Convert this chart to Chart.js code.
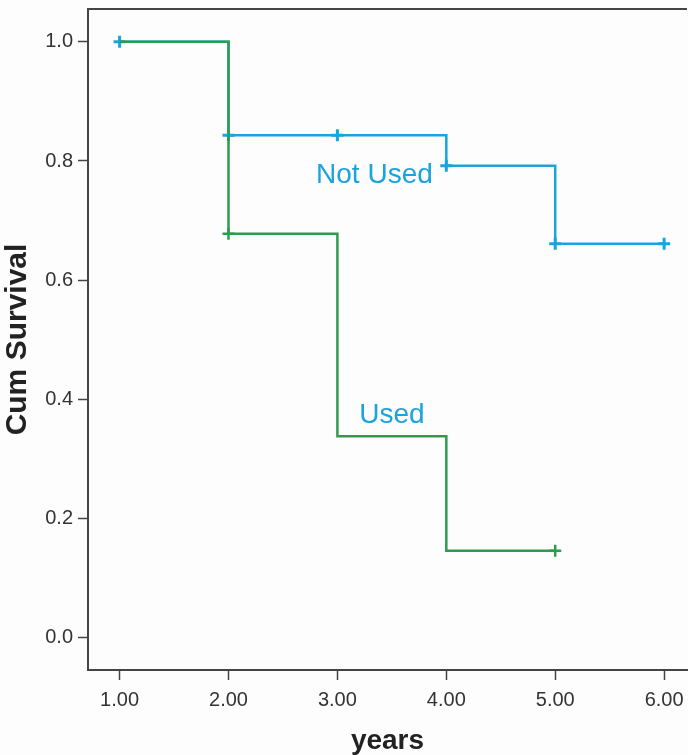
<!DOCTYPE html>
<html>
<head>
<meta charset="utf-8">
<script src="https://cdn.jsdelivr.net/npm/chart.js@4"></script>
<style>
  html, body { margin: 0; padding: 0; background: #fdfdfd; overflow: hidden; width: 688px; height: 755px; }
  /* le cadre de droite est coupé dans l'original : on déborde un peu */
  #wrap { width: 696px; height: 755px; position: relative; }
</style>
</head>
<body>
<div id="wrap"><canvas id="survivalChart"></canvas></div>
<script>
const years = [1, 2, 4, 5, 6];
const notUsed = [1.0, 0.843, 0.792, 0.661, 0.661];
const usedYears = [1, 2, 3, 4, 5];
const used = [1.0, 0.678, 0.338, 0.146, 0.146];

// Points censurés (+)
const notUsedCensorX = [1, 2, 3, 4, 5, 6];
const notUsedCensorY = [1.0, 0.843, 0.843, 0.792, 0.661, 0.661];
const usedCensorX = [2, 5];
const usedCensorY = [0.678, 0.146];

const xTicks = [1, 2, 3, 4, 5, 6];
const yTicks = [0.0, 0.2, 0.4, 0.6, 0.8, 1.0];

const groupLabels = [
    { text: 'Not Used', x: 3.34, y: 0.763 },
    { text: 'Used', x: 3.5, y: 0.36 }
];

const BLUE = '#1ba3dd';
const GREEN = '#2e9c4e';
const AXIS = '#444444';

function toPoints(xs, ys) {
    return xs.map((x, i) => ({ x: x, y: ys[i] }));
}

function noPadding(scale) {
    scale.paddingTop = 0;
    scale.paddingBottom = 0;
    scale.paddingLeft = 0;
    scale.paddingRight = 0;
}

// Bordure du haut + étiquettes des groupes
const extrasPlugin = {
    id: 'extras',
    afterDraw(chart) {
        const ctx = chart.ctx;
        const area = chart.chartArea;
        ctx.save();
        ctx.strokeStyle = AXIS;
        ctx.lineWidth = 2;
        ctx.beginPath();
        ctx.moveTo(area.left, area.top);
        ctx.lineTo(area.right, area.top);
        ctx.stroke();

        ctx.fillStyle = BLUE;
        ctx.font = '28px "Liberation Sans", Arial, sans-serif';
        ctx.textAlign = 'center';
        ctx.textBaseline = 'alphabetic';
        groupLabels.forEach(l => {
            const px = chart.scales.x.getPixelForValue(l.x);
            const py = chart.scales.y.getPixelForValue(l.y);
            ctx.fillText(l.text, px, py);
        });
        ctx.restore();
    }
};

const ctx = document.getElementById('survivalChart').getContext('2d');
new Chart(ctx, {
    type: 'scatter',
    data: {
        datasets: [
            {
                label: 'Not Used',
                data: toPoints(years, notUsed),
                showLine: true,
                stepped: 'before',
                borderColor: BLUE,
                borderWidth: 2.5,
                pointRadius: 0,
                order: 2
            },
            {
                label: 'Not Used censored',
                data: toPoints(notUsedCensorX, notUsedCensorY),
                showLine: false,
                pointStyle: 'cross',
                pointRadius: 6,
                borderColor: BLUE,
                borderWidth: 3,
                order: 1
            },
            {
                label: 'Used',
                data: toPoints(usedYears, used),
                showLine: true,
                stepped: 'before',
                borderColor: GREEN,
                borderWidth: 2.5,
                pointRadius: 0,
                order: 0
            },
            {
                label: 'Used censored',
                data: toPoints(usedCensorX, usedCensorY),
                showLine: false,
                pointStyle: 'cross',
                pointRadius: 6,
                borderColor: GREEN,
                borderWidth: 2.5,
                order: 0
            }
        ]
    },
    options: {
        responsive: true,
        maintainAspectRatio: false,
        animation: false,
        layout: { padding: { top: 8, right: 0, left: 0, bottom: 0 } },
        plugins: {
            legend: { display: false },
            tooltip: { enabled: false }
        },
        scales: {
            x: {
                type: 'linear',
                min: 0.71,
                max: 6.21,
                afterFit: function(scale) {
                    scale.height = 85;
                    noPadding(scale);
                },
                afterBuildTicks: function(scale) {
                    scale.ticks = xTicks.map(v => ({ value: v }));
                },
                ticks: {
                    color: '#333333',
                    padding: 8,
                    font: { family: '"Liberation Sans", Arial, sans-serif', size: 20 },
                    callback: v => Number(v).toFixed(2)
                },
                grid: {
                    drawOnChartArea: false,
                    drawTicks: true,
                    tickLength: 10,
                    tickWidth: 1.5,
                    color: AXIS
                },
                border: { display: true, color: AXIS, width: 2 },
                title: {
                    display: true,
                    text: 'years',
                    color: '#222222',
                    padding: { top: 0, bottom: 0 },
                    font: { family: '"Liberation Sans", Arial, sans-serif', size: 28, weight: 'bold', lineHeight: 1 }
                }
            },
            y: {
                type: 'linear',
                min: -0.054,
                max: 1.055,
                afterFit: function(scale) {
                    scale.width = 88;
                    noPadding(scale);
                },
                afterBuildTicks: function(scale) {
                    scale.ticks = yTicks.map(v => ({ value: v }));
                },
                ticks: {
                    color: '#333333',
                    padding: 5,
                    font: { family: '"Liberation Sans", Arial, sans-serif', size: 20 },
                    callback: v => Number(v).toFixed(1)
                },
                grid: {
                    drawOnChartArea: false,
                    drawTicks: true,
                    tickLength: 10,
                    tickWidth: 1.5,
                    color: AXIS
                },
                border: { display: true, color: AXIS, width: 2 },
                title: {
                    display: true,
                    text: 'Cum Survival',
                    color: '#222222',
                    padding: { top: 3, bottom: 0 },
                    font: { family: '"Liberation Sans", Arial, sans-serif', size: 30, weight: 'bold', lineHeight: 1 }
                }
            }
        }
    },
    plugins: [extrasPlugin]
});
</script>
</body>
</html>
